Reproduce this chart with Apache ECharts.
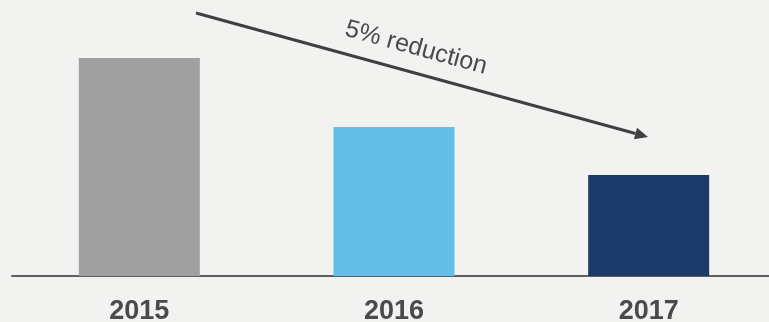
<!DOCTYPE html>
<html>
<head>
<meta charset="utf-8">
<script src="https://cdn.jsdelivr.net/npm/echarts@6/dist/echarts.min.js"></script>
<style>html,body{margin:0;padding:0;background:#f2f2f0;}#c{width:769px;height:322px;}</style>
</head>
<body>
<div id="c"></div>
<script>
const categories = ['2015', '2016', '2017'];
const values = [218, 149, 101];
const barColors = ['#a0a0a0', '#63bfe8', '#1b3a6a'];
const annotationText = '5% reduction';

const chart = echarts.init(document.getElementById('c'), null, {renderer: 'canvas'});
const tip = [648, 137], start = [196, 13];
const dx = tip[0] - start[0], dy = tip[1] - start[1];
const len = Math.sqrt(dx * dx + dy * dy);
const ux = dx / len, uy = dy / len;
const headL = 13, headW = 6;
const bx = tip[0] - ux * headL, by = tip[1] - uy * headL;
const ang = Math.atan2(dy, dx);

chart.setOption({
  backgroundColor: '#f2f2f0',
  animation: false,
  grid: {left: 12, right: -7, top: 0, bottom: 46, containLabel: false, outerBoundsMode: 'none'},
  xAxis: {
    type: 'category',
    data: categories,
    axisLine: {show: true, lineStyle: {color: '#5f5f5f', width: 2}},
    axisTick: {show: false},
    axisLabel: {fontSize: 27, fontWeight: 'bold', color: '#4a4a4a', fontFamily: 'Liberation Sans, Arial', margin: 22}
  },
  yAxis: {type: 'value', min: 0, max: 276, show: false, splitLine: {show: false}},
  series: [{
    type: 'bar',
    barWidth: 121,
    data: values.map((v, i) => ({value: v, itemStyle: {color: barColors[i]}}))
  }],
  graphic: [
    {type: 'line', shape: {x1: start[0], y1: start[1], x2: bx, y2: by}, style: {stroke: '#404040', lineWidth: 3}},
    {type: 'polygon', shape: {points: [[tip[0], tip[1]], [bx - uy * headW, by + ux * headW], [bx + uy * headW, by - ux * headW]]}, style: {fill: '#404040'}},
    {type: 'text', x: 416, y: 48, rotation: -ang, style: {text: annotationText, fontSize: 25, fontFamily: 'Liberation Sans, Arial', fill: '#4a4a4a', align: 'center', verticalAlign: 'middle'}}
  ]
});
</script>
</body>
</html>
